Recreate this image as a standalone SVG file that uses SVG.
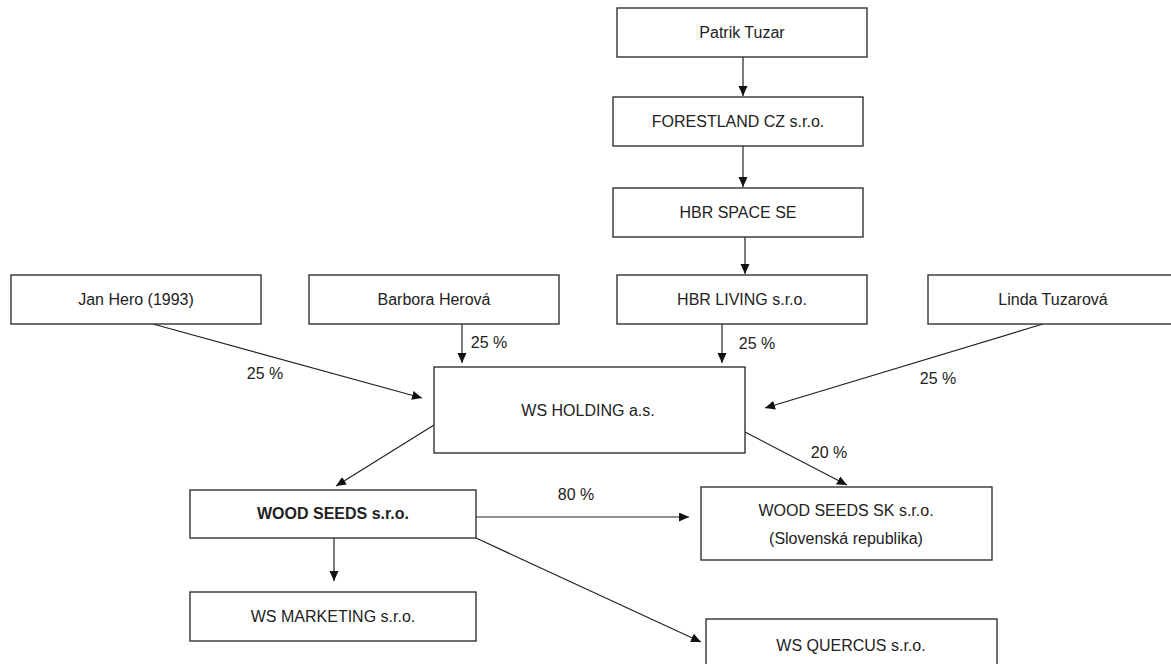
<svg xmlns="http://www.w3.org/2000/svg" width="1171" height="664" viewBox="0 0 1171 664">
<style>
.box{fill:#fff;stroke:#333;stroke-width:1.4}
.t{font-family:"Liberation Sans",Arial,sans-serif;font-size:16px;fill:#222;text-anchor:middle}
.b{font-weight:bold}
.e{stroke:#222;stroke-width:1.2;fill:none;marker-end:url(#ah)}
</style>
<defs>
<marker id="ah" markerUnits="userSpaceOnUse" markerWidth="11" markerHeight="10" refX="10" refY="4.5" orient="auto">
<path d="M0,0 L10,4.5 L0,9 z" fill="#111"/>
</marker>
</defs>
<rect width="1171" height="664" fill="#fff"/>
<g id="connectors">
<line class="e" x1="743" y1="57" x2="743" y2="96"/>
<line class="e" x1="743" y1="146" x2="743" y2="187"/>
<line class="e" x1="745" y1="237" x2="745" y2="274"/>
<line class="e" x1="153" y1="324" x2="422" y2="398"/>
<line class="e" x1="462" y1="324" x2="462" y2="363"/>
<line class="e" x1="722" y1="324" x2="722" y2="363"/>
<line class="e" x1="1043" y1="324" x2="765" y2="408"/>
<line class="e" x1="434" y1="425" x2="336" y2="486"/>
<line class="e" x1="745" y1="432" x2="847" y2="485"/>
<line class="e" x1="476" y1="517" x2="689" y2="517"/>
<line class="e" x1="334" y1="538" x2="334" y2="581"/>
<line class="e" x1="476" y1="538" x2="701" y2="642"/>
<text class="t" x="265" y="379">25 %</text>
<text class="t" x="489" y="348">25 %</text>
<text class="t" x="757" y="349">25 %</text>
<text class="t" x="938" y="384">25 %</text>
<text class="t" x="829" y="458">20 %</text>
<text class="t" x="576" y="500">80 %</text>
</g>
<g id="patrik"><rect class="box" x="617" y="8" width="250" height="49"/><text class="t" x="742" y="38">Patrik Tuzar</text></g>
<g id="forestland"><rect class="box" x="613" y="97" width="250" height="49"/><text class="t" x="738" y="127">FORESTLAND CZ s.r.o.</text></g>
<g id="hbrspace"><rect class="box" x="613" y="188" width="250" height="49"/><text class="t" x="738" y="218">HBR SPACE SE</text></g>
<g id="hbrliving"><rect class="box" x="617" y="275" width="250" height="49"/><text class="t" x="742" y="305">HBR LIVING s.r.o.</text></g>
<g id="janhero"><rect class="box" x="11" y="275" width="250" height="49"/><text class="t" x="136" y="305">Jan Hero (1993)</text></g>
<g id="barbora"><rect class="box" x="309" y="275" width="250" height="49"/><text class="t" x="434" y="305">Barbora Herová</text></g>
<g id="linda"><rect class="box" x="928" y="275" width="260" height="49"/><text class="t" x="1053" y="305">Linda Tuzarová</text></g>
<g id="wsholding"><rect class="box" x="434" y="367" width="311" height="86"/><text class="t" x="588" y="416">WS HOLDING a.s.</text></g>
<g id="woodseeds"><rect class="box" x="190" y="490" width="286" height="48"/><text class="t b" x="333" y="519">WOOD SEEDS s.r.o.</text></g>
<g id="woodseedssk"><rect class="box" x="701" y="487" width="291" height="73"/><text class="t" x="846" y="516">WOOD SEEDS SK s.r.o.</text><text class="t" x="846" y="544">(Slovenská republika)</text></g>
<g id="wsmarketing"><rect class="box" x="190" y="592" width="286" height="49"/><text class="t" x="333" y="622">WS MARKETING s.r.o.</text></g>
<g id="wsquercus"><rect class="box" x="706" y="619" width="291" height="60"/><text class="t" x="851" y="651">WS QUERCUS s.r.o.</text></g>
</svg>
